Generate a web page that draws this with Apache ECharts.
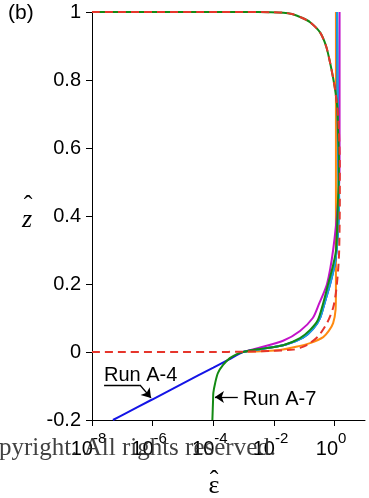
<!DOCTYPE html>
<html>
<head>
<meta charset="utf-8">
<script src="https://cdn.jsdelivr.net/npm/echarts@6/dist/echarts.min.js"></script>
<style>
html,body{margin:0;padding:0;background:#fff;}
#c{width:369px;height:498px;}
</style>
</head>
<body>
<div id="c"></div>
<script>
// x = epsilon-hat (log axis), y = z-hat
var xTicks = [1e-8, 1e-6, 1e-4, 1e-2, 1];
var yTicks = [-0.2, 0, 0.2, 0.4, 0.6, 0.8, 1];

var redEps = [1e-8, 1e-4, 9.5e-4, 7.4e-3, 0.043, 0.072, 0.13, 0.28, 0.56, 0.89, 1.12, 1.32, 1.41, 1.48, 1.48, 1.38, 1.22, 1.0, 0.71, 0.52, 0.33, 0.155, 0.083, 0.039, 0.02, 0.008, 1e-3, 1e-8];
var redZ   = [0, 0, 0.001, 0.003, 0.007, 0.012, 0.022, 0.045, 0.085, 0.13, 0.18, 0.25, 0.30, 0.45, 0.55, 0.65, 0.72, 0.78, 0.85, 0.90, 0.94, 0.97, 0.983, 0.994, 0.998, 0.9995, 1.0, 1.0];

var greenEps = [9.3e-5, 9.8e-5, 1.0e-4, 1.15e-4, 1.41e-4, 2.1e-4, 3.5e-4, 6.0e-4, 9.5e-4, 3.5e-3, 0.020, 0.072, 0.155, 0.28, 0.42, 0.60, 0.89, 1.11, 1.29, 1.38, 1.29, 1.22, 1.0, 0.71, 0.52, 0.33, 0.155, 0.083, 0.039, 0.02, 0.008, 1e-3, 1e-8];
var greenZ   = [-0.2, -0.141, -0.12, -0.091, -0.062, -0.038, -0.018, -0.006, 0.0, 0.009, 0.02, 0.041, 0.065, 0.094, 0.144, 0.197, 0.256, 0.30, 0.447, 0.565, 0.653, 0.72, 0.78, 0.85, 0.90, 0.94, 0.97, 0.983, 0.994, 0.998, 0.9995, 1.0, 1.0];

var blueEps = [4.9e-8, 1e-7, 1e-6, 1e-5, 1e-4, 3.2e-4, 9.5e-4, 4.0e-3, 0.025, 0.091, 0.195, 0.33, 0.48, 0.71, 1.02, 1.24, 1.4, 1.29, 1.2];
var blueZ   = [-0.2, -0.1855, -0.139, -0.092, -0.046, -0.0224, 0.0, 0.009, 0.022, 0.042, 0.068, 0.10, 0.148, 0.20, 0.26, 0.33, 0.447, 0.60, 1.0];

var cyanEps = [9.5e-4, 4.0e-3, 0.025, 0.091, 0.195, 0.33, 0.48, 0.71, 1.02, 1.24, 1.4, 1.29, 1.2];
var cyanZ   = [0.0, 0.009, 0.022, 0.042, 0.068, 0.10, 0.148, 0.20, 0.26, 0.33, 0.447, 0.60, 1.0];

var magentaEps = [9.5e-4, 3.5e-3, 0.020, 0.072, 0.19, 0.30, 0.56, 0.89, 1.29, 1.45, 1.45];
var magentaZ   = [0.0, 0.013, 0.033, 0.062, 0.10, 0.14, 0.20, 0.30, 0.44, 0.55, 1.0];

var orangeEps = [9.5e-4, 0.0158, 0.072, 0.155, 0.42, 0.64, 0.89, 1.07, 1.1, 1.1];
var orangeZ   = [0.0, 0.006, 0.018, 0.026, 0.044, 0.062, 0.085, 0.124, 0.18, 1.0];

function pairs(xs, ys){ return xs.map(function(x,i){ return [x, ys[i]]; }); }

var chart = echarts.init(document.getElementById('c'), null, {renderer:'canvas'});

function mkSeries(name, xs, ys, color, dashed, z){
  return {
    name: name, type: 'line', data: pairs(xs, ys), showSymbol: false, symbol: 'none',
    smooth: 0.25, z: z, animation: false,
    lineStyle: {color: color, width: 2, type: dashed ? [8, 5] : 'solid'}
  };
}

var series = [
  mkSeries('orange', orangeEps, orangeZ, '#ff8a10', false, 2),
  mkSeries('magenta', magentaEps, magentaZ, '#c313c8', false, 3),
  mkSeries('blue', blueEps, blueZ, '#1414e6', false, 4),
  mkSeries('cyan', cyanEps, cyanZ, '#1ba3dc', false, 5),
  mkSeries('green', greenEps, greenZ, '#138a13', false, 6),
  mkSeries('red', redEps, redZ, '#e6352b', true, 7)
];

// annotation arrows in data coordinates
series.push({
  type: 'line', data: [], z: 8, silent: true, animation: false,
  markLine: {
    silent: true, animation: false, label: {show: false},
    lineStyle: {color: '#000', width: 1.3, type: 'solid'},
    data: [
      [{coord: [2.5e-8, -0.097], symbol: 'none'}, {coord: [3.8e-7, -0.097], symbol: 'none'}],
      [{coord: [3.8e-7, -0.097], symbol: 'none'}, {coord: [8.8e-7, -0.135], symbol: 'arrow', symbolSize: 9}],
      [{coord: [6.4e-4, -0.132], symbol: 'none'}, {coord: [1.13e-4, -0.132], symbol: 'arrow', symbolSize: 9}]
    ]
  }
});

var labelFont = 'Liberation Sans, Arial, sans-serif';
var serif = 'Liberation Serif, Times New Roman, serif';

chart.setOption({
  animation: false,
  backgroundColor: '#fff',
  grid: {left: 92, right: 4, top: 12, bottom: 78, containLabel: false},
  xAxis: {
    type: 'log', logBase: 10, min: 1e-8, max: 10,
    axisLine: {show: true, onZero: false, lineStyle: {color: '#000', width: 1}},
    axisTick: {show: true, length: 6, inside: false, lineStyle: {color: '#000'}, customValues: xTicks},
    minorTick: {show: false},
    splitLine: {show: false},
    axisLabel: {
      customValues: xTicks,
      margin: 11,
      formatter: function(v){
        var e = Math.round(Math.log(v)/Math.LN10);
        return '{b|10}{s|' + e + '}';
      },
      rich: {
        b: {fontFamily: labelFont, fontSize: 20, color: '#000', verticalAlign: 'bottom'},
        s: {fontFamily: labelFont, fontSize: 15, color: '#000', verticalAlign: 'bottom', padding: [0, 7, 13, 0]}
      }
    }
  },
  yAxis: {
    type: 'value', min: -0.2, max: 1, interval: 0.2,
    axisLine: {show: true, onZero: false, lineStyle: {color: '#000', width: 1}},
    axisTick: {show: true, length: 6, lineStyle: {color: '#000'}},
    splitLine: {show: false},
    axisLabel: {
      fontFamily: labelFont, fontSize: 20, color: '#000', margin: 11,
      formatter: function(v){ return String(Math.round(v*10)/10); }
    }
  },
  graphic: [
    {type: 'text', left: 8, top: 3, style: {text: '(b)', font: '21px ' + labelFont, fill: '#000'}},
    {type: 'text', x: 22, y: 220, style: {text: 'z', font: 'italic 26px ' + serif, fill: '#000', textVerticalAlign: 'middle'}},
    {type: 'text', x: 28, y: 206, style: {text: 'ˆ', font: '26px ' + serif, fill: '#000', textAlign: 'center', textVerticalAlign: 'middle'}},
    {type: 'text', x: 214, y: 486, style: {text: 'ε', font: '26px ' + serif, fill: '#000', textAlign: 'center', textVerticalAlign: 'middle'}},
    {type: 'text', x: 214, y: 481, style: {text: 'ˆ', font: '26px ' + serif, fill: '#000', textAlign: 'center', textVerticalAlign: 'middle'}},
    {type: 'text', x: 104, y: 375, style: {text: 'Run A-4', font: '20px ' + labelFont, fill: '#000', textVerticalAlign: 'middle'}},
    {type: 'text', x: 243, y: 399, style: {text: 'Run A-7', font: '20px ' + labelFont, fill: '#000', textVerticalAlign: 'middle'}},
    {type: 'text', x: 276, y: 448, z: 100, style: {text: 'Copyright. All rights reserved.', font: '25px ' + serif, fill: 'rgba(45,45,45,0.9)', textAlign: 'right', textVerticalAlign: 'middle'}}
  ],
  series: series
});
</script>
</body>
</html>
